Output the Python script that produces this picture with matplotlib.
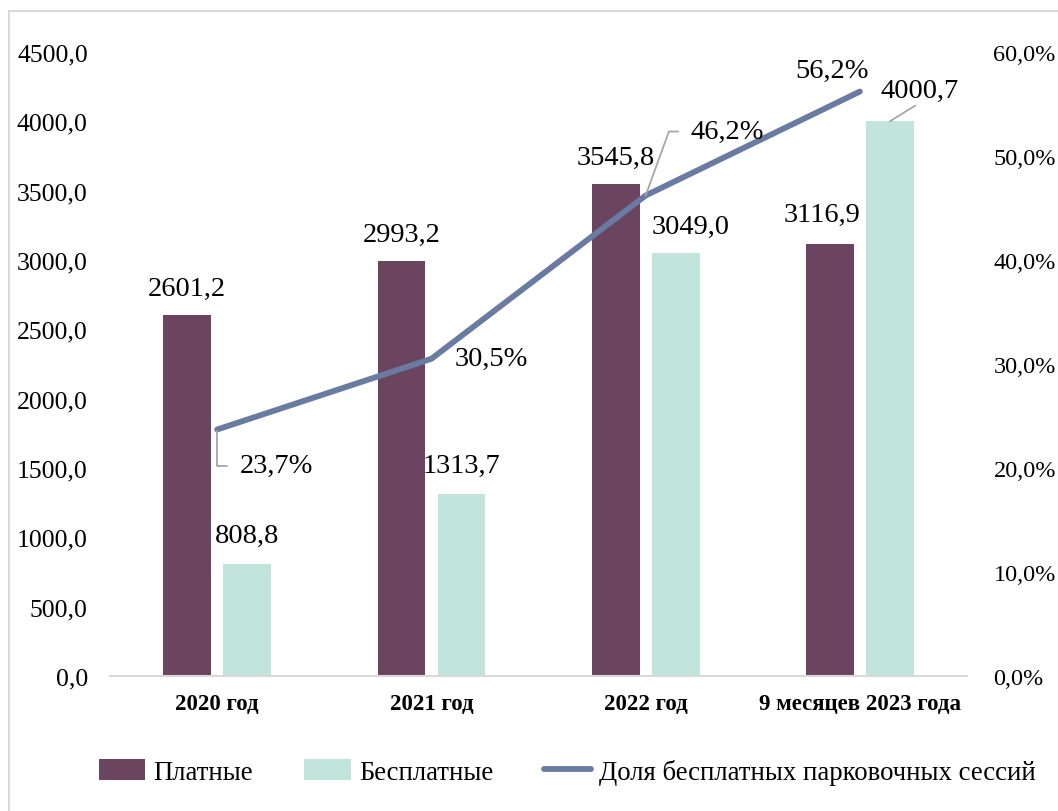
import matplotlib.pyplot as plt
import matplotlib.patches as mpatches
import numpy as np

plt.rcParams['font.family'] = ['Liberation Serif', 'DejaVu Serif']

categories = ['2020 год', '2021 год', '2022 год', '9 месяцев 2023 года']
paid = [2601.2, 2993.2, 3545.8, 3116.9]
free = [808.8, 1313.7, 3049.0, 4000.7]
share = [23.7, 30.5, 46.2, 56.2]
left_ticks = [0, 500, 1000, 1500, 2000, 2500, 3000, 3500, 4000, 4500]
right_ticks = [0, 10, 20, 30, 40, 50, 60]

PLUM = '#6b4460'
MINT = '#c1e4dc'
LINE = '#6a7ba2'
GREY = '#a6a6a6'

def ru(v, suffix=''):
    return ('%.1f' % v).replace('.', ',') + suffix

fig = plt.figure(figsize=(10.58, 8.12), dpi=100)
# outer frame
fig.patches.append(mpatches.Rectangle((9 / 1058, -0.05), 1.1, 1 - 12 / 812 + 0.05,
                                      transform=fig.transFigure, fill=False,
                                      edgecolor='#d9d9d9', linewidth=1.5))

ax = fig.add_axes([0.104, 0.1663, 0.81, 0.7684])
x = np.arange(len(categories))
w = 0.223
off = 0.14
ax.bar(x - off, paid, w, color=PLUM, label='Платные')
ax.bar(x + off, free, w, color=MINT, label='Бесплатные')

ax.set_xlim(-0.5, len(categories) - 0.5)
ax.set_ylim(0, 4500)
ax.set_yticks(left_ticks)
ax.set_yticklabels([ru(v) for v in left_ticks], fontsize=18.5)
ax.set_xticks(x)
ax.set_xticklabels(categories, fontsize=16.5, fontweight='bold')
ax.tick_params(axis='y', length=0, pad=16)
ax.tick_params(axis='x', length=0, pad=12)
for s in ['top', 'right', 'left']:
    ax.spines[s].set_visible(False)
ax.spines['bottom'].set_color('#d9d9d9')
ax.spines['bottom'].set_linewidth(1.5)

# bar labels (offsets in pixels)
lab = dict(textcoords='offset pixels', ha='center', va='center', fontsize=20.5)
for i in range(3):
    ax.annotate(ru(paid[i]), (x[i] - off, paid[i]), xytext=(0, 27), **lab)
ax.annotate(ru(paid[3]), (x[3] - off, paid[3]), xytext=(-8, 29), **lab)
ax.annotate(ru(free[0]), (x[0] + off, free[0]), xytext=(0, 28), **lab)
ax.annotate(ru(free[1]), (x[1] + off, free[1]), xytext=(0, 28), **lab)
ax.annotate(ru(free[2]), (x[2] + off, free[2]), xytext=(15, 27), **lab)
ax.annotate(ru(free[3]), (x[3] + off, free[3]), xytext=(30, 31),
            arrowprops=dict(arrowstyle='-', color=GREY, lw=1.3, shrinkA=0,
                            shrinkB=0, relpos=(0.5, 0.0)), **lab)

ax2 = ax.twinx()
ax2.set_position(ax.get_position())
ax2.plot(x, share, color=LINE, lw=4.2, solid_capstyle='round',
         label='Доля бесплатных парковочных сессий')
ax2.set_ylim(0, 60)
ax2.set_yticks(right_ticks)
ax2.set_yticklabels([ru(v, '%') for v in right_ticks], fontsize=17.5)
ax2.tick_params(axis='y', length=0, pad=19)
for s in ['top', 'right', 'left', 'bottom']:
    ax2.spines[s].set_visible(False)

ax2.annotate(ru(share[0], '%'), (x[0], share[0]), xytext=(59, -36),
             arrowprops=dict(arrowstyle='-', color=GREY, lw=1.3, shrinkA=7,
                             shrinkB=1, relpos=(0, 0.5),
                             connectionstyle='angle,angleA=0,angleB=90,rad=0'),
             **lab)
ax2.annotate(ru(share[1], '%'), (x[1], share[1]), xytext=(60, 0), **lab)
ax2.annotate(ru(share[2], '%'), (x[2], share[2]), xytext=(82, 64),
             arrowprops=dict(arrowstyle='-', color=GREY, lw=1.3, shrinkA=7,
                             shrinkB=0, relpos=(0, 0.5),
                             connectionstyle='angle,angleA=0,angleB=70,rad=0'),
             **lab)
ax2.annotate(ru(share[3], '%'), (x[3], share[3]), xytext=(-28, 21), **lab)

h1, l1 = ax.get_legend_handles_labels()
h2, l2 = ax2.get_legend_handles_labels()
fig.legend(h1 + h2, l1 + l2, loc='center', bbox_to_anchor=(0.536, 0.048),
           ncol=3, frameon=False, fontsize=19.3, handlelength=1.75,
           handleheight=0.8, handletextpad=0.3, columnspacing=1.9)

fig.savefig('out.png', dpi=100)
